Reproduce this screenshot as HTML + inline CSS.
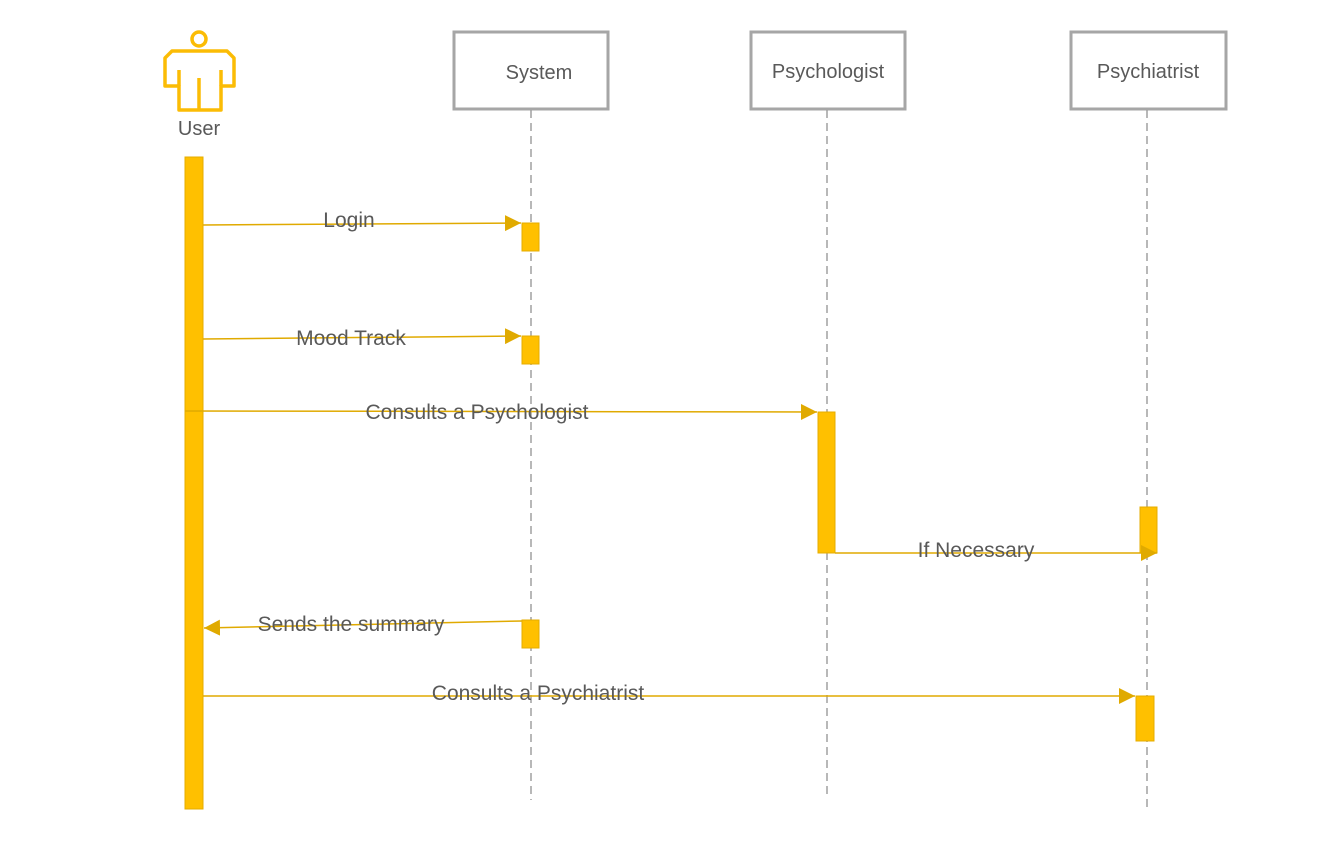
<!DOCTYPE html>
<html><head><meta charset="utf-8"><style>html,body{margin:0;padding:0;background:#fff;}svg{display:block}</style></head>
<body>
<svg width="1321" height="856" viewBox="0 0 1321 856" xmlns="http://www.w3.org/2000/svg" font-family="'Liberation Sans', sans-serif">
<defs>
<marker id="a" markerWidth="16" markerHeight="16" refX="14" refY="7" orient="auto" markerUnits="userSpaceOnUse" viewBox="0 0 14 14"><path d="M0,0 L14,7 L0,14 z" fill="#e0aa00"/></marker>
</defs>
<g fill="none" stroke="#fbbc05" stroke-width="3.5" stroke-linejoin="round">
<circle cx="199" cy="39" r="7"/>
<path d="M165,86 L165,58 L172,51 L227,51 L234,58 L234,86 L221,86 L221,110 L179,110 L179,86 Z"/>
<path d="M179,70 L179,86 M221,70 L221,86 M199,78 L199,110"/>
</g>
<text x="199" y="135" font-size="20" fill="#595959" text-anchor="middle">User</text>
<g fill="#fff" stroke="#a6a6a6" stroke-width="3">
<rect x="454" y="32" width="154" height="77"/>
<rect x="751" y="32" width="154" height="77"/>
<rect x="1071" y="32" width="155" height="77"/>
</g>
<g font-size="20" fill="#595959" text-anchor="middle">
<text x="539" y="79">System</text>
<text x="828" y="78">Psychologist</text>
<text x="1148" y="78">Psychiatrist</text>
</g>
<g stroke="#a0a0a0" stroke-width="1.5" stroke-dasharray="8,5">
<line x1="531" y1="110" x2="531" y2="800"/>
<line x1="827" y1="110" x2="827" y2="795"/>
<line x1="1147" y1="110" x2="1147" y2="810"/>
</g>
<g fill="#ffc000" stroke="#e6ad00" stroke-width="1">
<rect x="185" y="157" width="18" height="652"/>
<rect x="522" y="223" width="17" height="28"/>
<rect x="522" y="336" width="17" height="28"/>
<rect x="818" y="412" width="17" height="141"/>
<rect x="1140" y="507" width="17" height="46"/>
<rect x="522" y="620" width="17" height="28"/>
<rect x="1136" y="696" width="18" height="45"/>
</g>
<g stroke="#e0aa00" stroke-width="1.5" fill="none">
<line x1="203" y1="225" x2="521" y2="223" marker-end="url(#a)"/>
<line x1="203" y1="339" x2="521" y2="336" marker-end="url(#a)"/>
<line x1="185" y1="411" x2="817" y2="412" marker-end="url(#a)"/>
<line x1="835" y1="553" x2="1157" y2="553" marker-end="url(#a)"/>
<line x1="522" y1="621" x2="204" y2="628" marker-end="url(#a)"/>
<line x1="203" y1="696" x2="1135" y2="696" marker-end="url(#a)"/>
</g>
<g font-size="21" fill="#595959" text-anchor="middle">
<text x="349" y="227">Login</text>
<text x="351" y="345">Mood Track</text>
<text x="477" y="419">Consults a Psychologist</text>
<text x="976" y="557">If Necessary</text>
<text x="351" y="631">Sends the summary</text>
<text x="538" y="700">Consults a Psychiatrist</text>
</g>
</svg>
</body></html>
